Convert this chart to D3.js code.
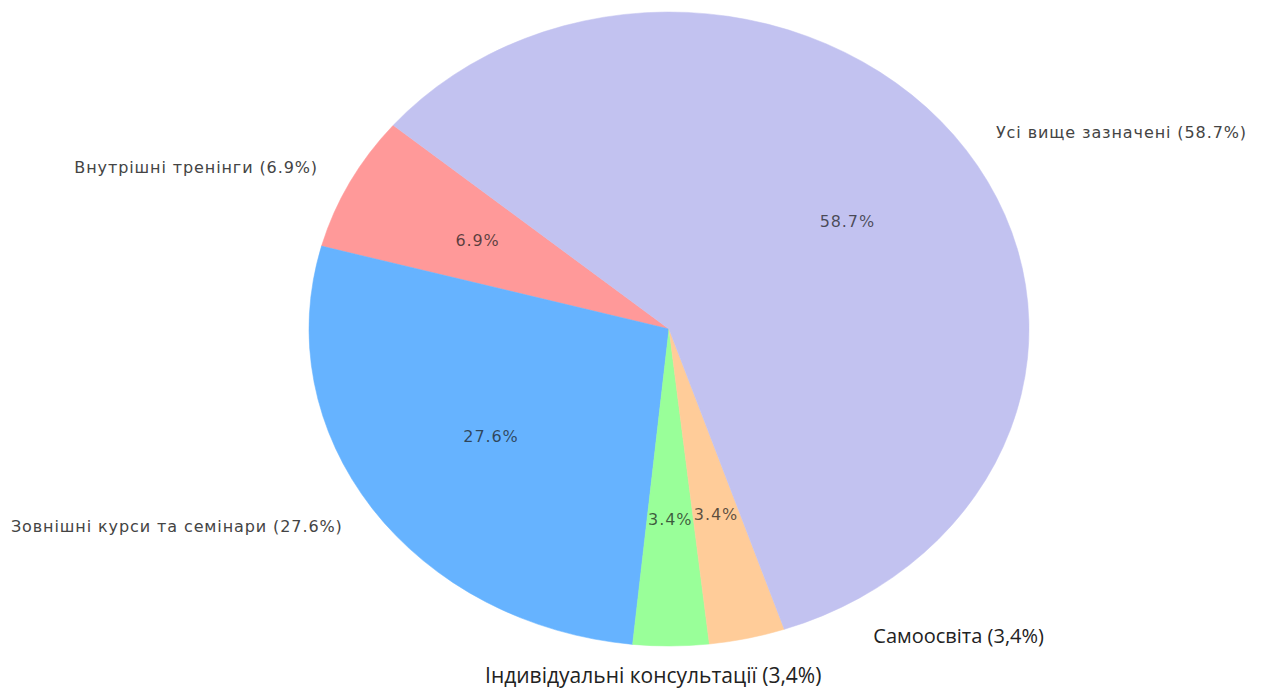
<!DOCTYPE html>
<html>
<head>
<meta charset="utf-8">
<script src="https://cdn.jsdelivr.net/npm/d3@7"></script>
<style>
  html, body { margin: 0; padding: 0; background: #ffffff; }
  svg { display: block; }
</style>
</head>
<body>
<svg id="chart" width="1263" height="691"></svg>
<script>
// ---- data ----
const categories = [
  "Внутрішні тренінги",
  "Зовнішні курси та семінари",
  "Індивідуальні консультації",
  "Самоосвіта",
  "Усі вище зазначені"
];
const values = [6.9, 27.6, 3.4, 3.4, 58.7];
const pctLabels = ["6.9%", "27.6%", "3.4%", "3.4%", "58.7%"];
const outerLabels = [
  "Внутрішні тренінги (6.9%)",
  "Зовнішні курси та семінари (27.6%)",
  "Індивідуальні консультації (3,4%)",
  "Самоосвіта (3,4%)",
  "Усі вище зазначені (58.7%)"
];
const colors = ["#ff9999", "#66b3ff", "#99ff99", "#ffcc99", "#c2c2f0"];

// ---- layout ----
const cx = 669, cy = 329;
const rx = 360, ry = 317;
const startDeg = 140; // matplotlib-style startangle, counterclockwise

const svg = d3.select("#chart");

const toRad = d => d * Math.PI / 180;
const d3Start = toRad(90 - startDeg);
const pie = d3.pie().sort(null).value(d => d)
  .startAngle(d3Start).endAngle(d3Start - 2 * Math.PI);
const arcs = pie(values);

const arc = d3.arc().innerRadius(0).outerRadius(ry);

const g = svg.append("g")
  .attr("transform", `translate(${cx},${cy}) scale(${rx / ry},1)`);

g.selectAll("path.slice")
  .data(arcs)
  .join("path")
  .attr("class", "slice")
  .attr("d", arc)
  .attr("fill", (d, i) => colors[i])
  .attr("stroke", (d, i) => colors[i])
  .attr("stroke-width", 0.5);

function pt(angle, frac) {
  return [cx + Math.sin(angle) * rx * frac, cy - Math.cos(angle) * ry * frac];
}

// percentage labels (pctdistance 0.6)
svg.selectAll("text.pct")
  .data(arcs)
  .join("text")
  .attr("class", "pct")
  .attr("x", d => pt((d.startAngle + d.endAngle) / 2, 0.6)[0])
  .attr("y", d => pt((d.startAngle + d.endAngle) / 2, 0.6)[1])
  .attr("text-anchor", "middle")
  .attr("dominant-baseline", "central")
  .attr("font-family", "DejaVu Sans, sans-serif")
  .attr("font-size", 16)
  .attr("letter-spacing", 0.9)
  .attr("fill", "#1a1a1a")
  .attr("fill-opacity", 0.72)
  .text((d, i) => pctLabels[i]);

// outer labels (labeldistance 1.1); the two small slices were re-labelled by hand
svg.selectAll("text.outer")
  .data(arcs)
  .join("text")
  .attr("class", "outer")
  .each(function(d, i) {
    const mid = (d.startAngle + d.endAngle) / 2;
    const p = pt(mid, 1.1);
    const t = d3.select(this);
    if (i === 2) {
      t.attr("x", p[0] - 18).attr("y", p[1] + 5)
        .attr("text-anchor", "middle")
        .attr("font-family", "Open Sans, sans-serif")
        .attr("font-size", 21).attr("fill", "#222");
    } else if (i === 3) {
      const q = pt(d.endAngle, 1.0);
      t.attr("x", q[0] + 89).attr("y", q[1] + 13.5)
        .attr("text-anchor", "start")
        .attr("font-family", "Open Sans, sans-serif")
        .attr("font-size", 20).attr("fill", "#222");
    } else {
      t.attr("x", p[0]).attr("y", p[1])
        .attr("text-anchor", Math.sin(mid) >= 0 ? "start" : "end")
        .attr("dominant-baseline", "central")
        .attr("font-family", "DejaVu Sans, sans-serif")
        .attr("font-size", 16)
        .attr("letter-spacing", 0.9)
        .attr("fill", "#444");
    }
    t.text(outerLabels[i]);
  });
</script>
</body>
</html>
